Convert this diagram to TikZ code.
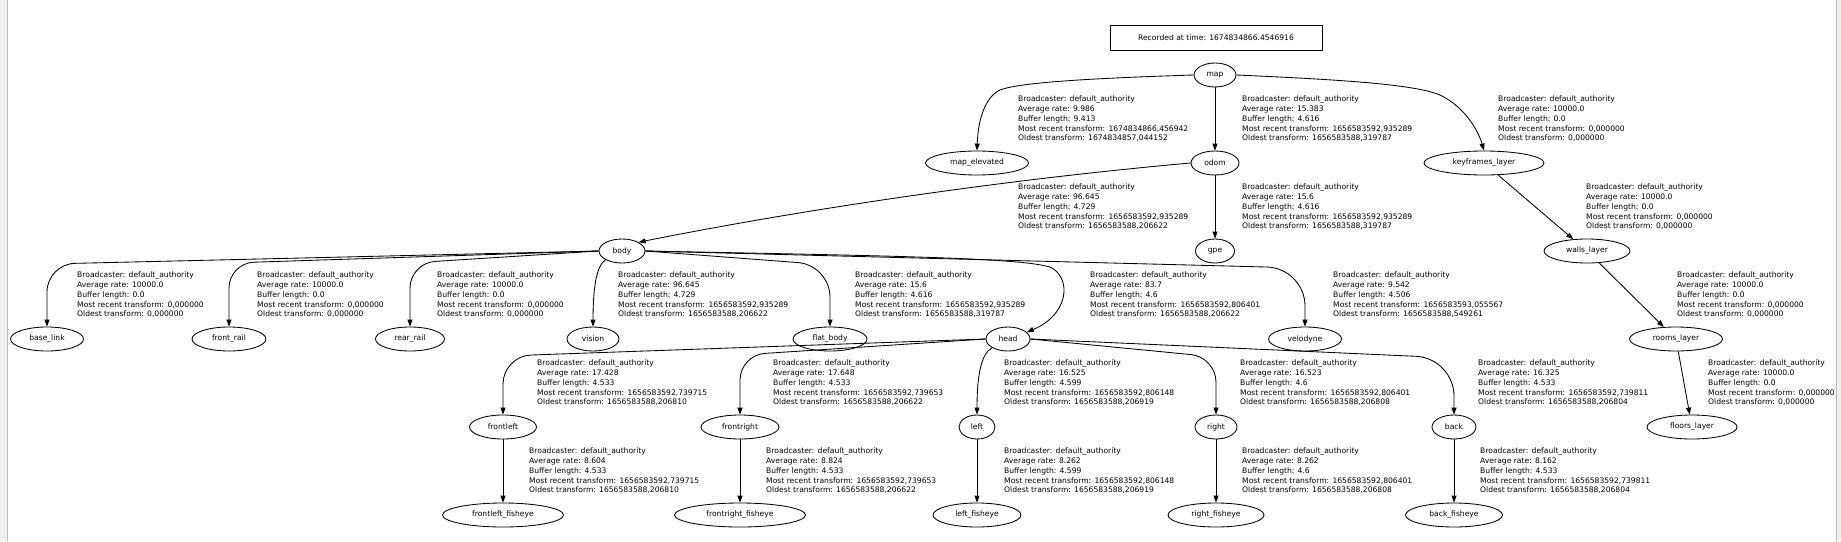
\documentclass[tikz,border=0pt]{standalone}
\usepackage{fontspec}
\setmainfont{DejaVu Sans}
\usetikzlibrary{shapes.geometric,arrows.meta}
\newcommand{\tfinfo}[4]{Broadcaster: default\_authority\\Average rate: #1\\Buffer length: #2\\Most recent transform: #3\\Oldest transform: #4}
\begin{document}
\begin{tikzpicture}[x=1pt,y=-1pt,
  nd/.style={ellipse, draw, line width=0.85pt, inner sep=0pt, minimum height=24pt, font=\fontsize{7.6}{9}\selectfont},
  lbl/.style={anchor=west, align=left, inner sep=0pt, font=\fontsize{7.6}{9.75}\selectfont},
  tfedge/.style={draw, line width=0.85pt, -{Triangle[length=7pt,width=5pt]}}]
\useasboundingbox (0,0) rectangle (1841,541);
\fill[white] (0,0) rectangle (1841,541);
\fill[gray!12] (0,0) rectangle (7,541);
\draw[gray!55, line width=0.7pt] (7,0) -- (7,541);
\fill[gray!12] (1836,0) rectangle (1841,541);
\draw[gray!55, line width=0.7pt] (1836,0) -- (1836,541);

\node[draw, line width=0.85pt, minimum width=212pt, minimum height=25pt, inner sep=0pt, font=\fontsize{7.6}{9}\selectfont] (rec) at (1216,37.5) {Recorded at time: 1674834866.4546916};

% row 1
\node[nd, minimum width=42pt] (map) at (1215,75) {map};
% row 2
\node[nd, minimum width=103pt] (mapel) at (977,163) {map\_elevated};
\node[nd, minimum width=48pt] (odom) at (1215,163) {odom};
\node[nd, minimum width=120pt] (kf) at (1484,163) {keyframes\_layer};
% row 3
\node[nd, minimum width=46pt] (body) at (622,251) {body};
\node[nd, minimum width=39pt] (gpe) at (1215,251) {gpe};
\node[nd, minimum width=86pt] (walls) at (1587,251) {walls\_layer};
% row 4
\node[nd, minimum width=73pt] (baselink) at (47,339) {base\_link};
\node[nd, minimum width=74pt] (frontrail) at (229,339) {front\_rail};
\node[nd, minimum width=69pt] (rearrail) at (410,339) {rear\_rail};
\node[nd, minimum width=52pt] (vision) at (593,339) {vision};
\node[nd, minimum width=74pt] (flatbody) at (830,339) {flat\_body};
\node[nd, minimum width=44pt] (head) at (1008,339) {head};
\node[nd, minimum width=73pt] (velodyne) at (1305,339) {velodyne};
\node[nd, minimum width=93pt] (rooms) at (1676,339) {rooms\_layer};
% row 5
\node[nd, minimum width=67pt] (frontleft) at (503,427) {frontleft};
\node[nd, minimum width=78pt] (frontright) at (740,427) {frontright};
\node[nd, minimum width=36pt] (left) at (977,427) {left};
\node[nd, minimum width=42pt] (right) at (1216,427) {right};
\node[nd, minimum width=44pt] (back) at (1454,427) {back};
\node[nd, minimum width=90pt] (floors) at (1692,427) {floors\_layer};
% row 6
\node[nd, minimum width=121pt] (frontleftf) at (503,515) {frontleft\_fisheye};
\node[nd, minimum width=131pt] (frontrightf) at (740,515) {frontright\_fisheye};
\node[nd, minimum width=88pt] (leftf) at (977,515) {left\_fisheye};
\node[nd, minimum width=96pt] (rightf) at (1216,515) {right\_fisheye};
\node[nd, minimum width=97pt] (backf) at (1454,515) {back\_fisheye};

% edges
\draw[tfedge] (map.west) .. controls (1100,78) and (1020,82) .. (1000,90) .. controls (985,97) and (978,120) .. (mapel.north);
\draw[tfedge] (map) -- (odom);
\draw[tfedge] (map.east) .. controls (1350,80) and (1420,85) .. (1442,96) .. controls (1465,108) and (1478,130) .. (kf.north);
\draw[tfedge] (odom.west) .. controls (1000,180) and (800,210) .. (body.north east);
\draw[tfedge] (odom) -- (gpe);
\draw[tfedge] (kf) -- (walls);
\draw[tfedge] (walls) -- (rooms);
\draw[tfedge] (rooms) -- (floors);

\draw[tfedge, rounded corners=28pt] (body.west) -- (47,264) -- (baselink.north);
\draw[tfedge, rounded corners=25pt] (body.west) -- (229,263) -- (frontrail.north);
\draw[tfedge, rounded corners=25pt] (body.west) -- (410,263) -- (rearrail.north);
\draw[tfedge] (body.south west) .. controls (596,266) and (593,290) .. (vision.north);
\draw[tfedge, rounded corners=32pt] (body.east) -- (830,265) -- (flatbody.north);
\draw[tfedge] (body.east) .. controls (900,256) and (1030,258) .. (1052,268) .. controls (1072,280) and (1068,315) .. (head.20);
\draw[tfedge, rounded corners=38pt] (body.east) -- (1305,268) -- (velodyne.north);

\draw[tfedge, rounded corners=28pt] (head.west) -- (503,356) -- (frontleft.north);
\draw[tfedge, rounded corners=25pt] (head.west) -- (740,355) -- (frontright.north);
\draw[tfedge] (head.south west) .. controls (980,354) and (977,380) .. (left.north);
\draw[tfedge, rounded corners=25pt] (head.east) -- (1216,357) -- (right.north);
\draw[tfedge, rounded corners=38pt] (head.east) -- (1454,358) -- (back.north);

\draw[tfedge] (frontleft) -- (frontleftf);
\draw[tfedge] (frontright) -- (frontrightf);
\draw[tfedge] (left) -- (leftf);
\draw[tfedge] (right) -- (rightf);
\draw[tfedge] (back) -- (backf);

% labels
\node[lbl] (l1) at (1018,119) {\tfinfo{9.986}{9.413}{1674834866,456942}{1674834857,044152}};
\node[lbl] (l2) at (1242,119) {\tfinfo{15.383}{4.616}{1656583592,935289}{1656583588,319787}};
\node[lbl] (l3) at (1498,119) {\tfinfo{10000.0}{0.0}{0,000000}{0,000000}};
\node[lbl] (l4) at (1018,207) {\tfinfo{96.645}{4.729}{1656583592,935289}{1656583588,206622}};
\node[lbl] (l5) at (1242,207) {\tfinfo{15.6}{4.616}{1656583592,935289}{1656583588,319787}};
\node[lbl] (l6) at (1586,207) {\tfinfo{10000.0}{0.0}{0,000000}{0,000000}};
\node[lbl] (l7) at (77,295) {\tfinfo{10000.0}{0.0}{0,000000}{0,000000}};
\node[lbl] (l8) at (257,295) {\tfinfo{10000.0}{0.0}{0,000000}{0,000000}};
\node[lbl] (l9) at (437,295) {\tfinfo{10000.0}{0.0}{0,000000}{0,000000}};
\node[lbl] (l10) at (618,295) {\tfinfo{96.645}{4.729}{1656583592,935289}{1656583588,206622}};
\node[lbl] (l11) at (855,295) {\tfinfo{15.6}{4.616}{1656583592,935289}{1656583588,319787}};
\node[lbl] (l12) at (1090,295) {\tfinfo{83.7}{4.6}{1656583592,806401}{1656583588,206622}};
\node[lbl] (l13) at (1333,295) {\tfinfo{9.542}{4.506}{1656583593,055567}{1656583588,549261}};
\node[lbl] (l14) at (1677,295) {\tfinfo{10000.0}{0.0}{0,000000}{0,000000}};
\node[lbl] (l15) at (537,383) {\tfinfo{17.428}{4.533}{1656583592,739715}{1656583588,206810}};
\node[lbl] (l16) at (773,383) {\tfinfo{17.648}{4.533}{1656583592,739653}{1656583588,206622}};
\node[lbl] (l17) at (1004,383) {\tfinfo{16.525}{4.599}{1656583592,806148}{1656583588,206919}};
\node[lbl] (l18) at (1240,383) {\tfinfo{16.523}{4.6}{1656583592,806401}{1656583588,206808}};
\node[lbl] (l19) at (1478,383) {\tfinfo{16.325}{4.533}{1656583592,739811}{1656583588,206804}};
\node[lbl] (l20) at (1708,383) {\tfinfo{10000.0}{0.0}{0,000000}{0,000000}};
\node[lbl] (l21) at (529,471) {\tfinfo{8.604}{4.533}{1656583592,739715}{1656583588,206810}};
\node[lbl] (l22) at (766,471) {\tfinfo{8.824}{4.533}{1656583592,739653}{1656583588,206622}};
\node[lbl] (l23) at (1004,471) {\tfinfo{8.262}{4.599}{1656583592,806148}{1656583588,206919}};
\node[lbl] (l24) at (1242,471) {\tfinfo{8.262}{4.6}{1656583592,806401}{1656583588,206808}};
\node[lbl] (l25) at (1480,471) {\tfinfo{8.162}{4.533}{1656583592,739811}{1656583588,206804}};
\end{tikzpicture}
\end{document}
